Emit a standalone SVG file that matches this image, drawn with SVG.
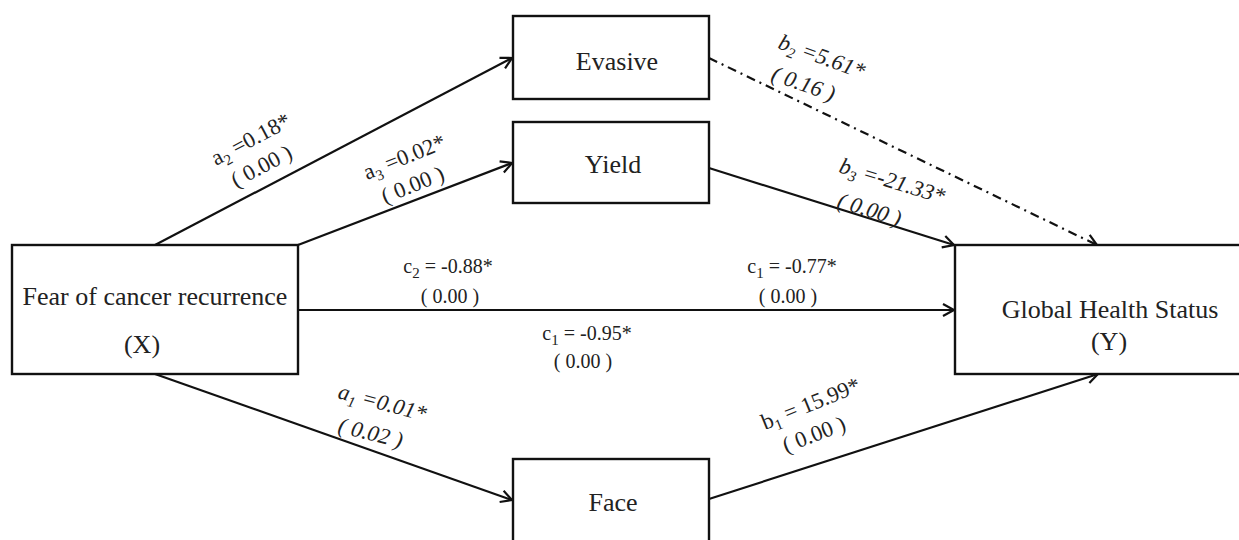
<svg xmlns="http://www.w3.org/2000/svg" width="1239" height="540" viewBox="0 0 1239 540">
<defs>
<style>
.box{fill:#fff;stroke:#111;stroke-width:2.4}
.node{font-family:"Liberation Serif","Times New Roman",serif;font-size:26px;fill:#222}
.lbl{font-family:"Liberation Serif","Times New Roman",serif;font-size:20px;fill:#222}
.rl{font-size:22.5px}
.it{font-style:italic}
.sub{font-size:15px}
.conn{stroke:#111;stroke-width:2.2;fill:none}
.dd{stroke-dasharray:9 5 2 5}
</style>
<marker id="arr" markerUnits="userSpaceOnUse" markerWidth="16" markerHeight="16" refX="13" refY="8" orient="auto">
<path d="M2,2 L13,8 L2,14" fill="none" stroke="#111" stroke-width="2.2"/>
</marker>
</defs>
<g id="connectors">
<line class="conn" x1="155" y1="245" x2="512" y2="58" marker-end="url(#arr)"/>
<line class="conn" x1="298" y1="245" x2="512" y2="163" marker-end="url(#arr)"/>
<line class="conn" x1="155" y1="374" x2="512" y2="500" marker-end="url(#arr)"/>
<line class="conn" x1="298" y1="310" x2="954" y2="310" marker-end="url(#arr)"/>
<line class="conn" x1="709" y1="168" x2="954" y2="245" marker-end="url(#arr)"/>
<line class="conn dd" x1="709" y1="58" x2="1097" y2="245" marker-end="url(#arr)"/>
<line class="conn" x1="709" y1="499" x2="1098" y2="374" marker-end="url(#arr)"/>
</g>
<g id="node-x">
<rect class="box" x="12" y="245" width="286" height="129"/>
<text class="node" x="155" y="305" text-anchor="middle">Fear of cancer recurrence</text>
<text class="node" x="142" y="353" text-anchor="middle">(X)</text>
</g>
<g id="node-evasive">
<rect class="box" x="513" y="16" width="196" height="83"/>
<text class="node" x="617" y="70" text-anchor="middle">Evasive</text>
</g>
<g id="node-yield">
<rect class="box" x="513" y="122" width="196" height="81"/>
<text class="node" x="613" y="173" text-anchor="middle">Yield</text>
</g>
<g id="node-face">
<rect class="box" x="513" y="459" width="196" height="90"/>
<text class="node" x="613" y="511" text-anchor="middle">Face</text>
</g>
<g id="node-y">
<rect class="box" x="955" y="245" width="300" height="129"/>
<text class="node" x="1110" y="318" text-anchor="middle">Global Health Status</text>
<text class="node" x="1109" y="350" text-anchor="middle">(Y)</text>
</g>
<g id="labels">
<text class="lbl rl" transform="translate(216,166) rotate(-28)">a<tspan class="sub" dy="5">2</tspan><tspan dy="-5"> =0.18*</tspan></text>
<text class="lbl rl" transform="translate(236,188) rotate(-28)">( 0.00 )</text>
<text class="lbl rl" transform="translate(367,180) rotate(-22)">a<tspan class="sub" dy="5">3</tspan><tspan dy="-5"> =0.02*</tspan></text>
<text class="lbl rl" transform="translate(385,204) rotate(-22)">( 0.00 )</text>
<text class="lbl rl it" transform="translate(777,48) rotate(20)">b<tspan class="sub" dy="5">2</tspan><tspan dy="-5"> =5.61*</tspan></text>
<text class="lbl rl it" transform="translate(770,80) rotate(19)">( 0.16 )</text>
<text class="lbl rl it" transform="translate(838,172) rotate(17)">b<tspan class="sub" dy="5">3</tspan><tspan dy="-5"> =-21.33*</tspan></text>
<text class="lbl rl it" transform="translate(836,207) rotate(17)">( 0.00 )</text>
<text class="lbl" x="448" y="273" text-anchor="middle">c<tspan class="sub" dy="5">2</tspan><tspan dy="-5"> = -0.88*</tspan></text>
<text class="lbl" x="450" y="303" text-anchor="middle">( 0.00 )</text>
<text class="lbl" x="792" y="273" text-anchor="middle">c<tspan class="sub" dy="5">1</tspan><tspan dy="-5"> = -0.77*</tspan></text>
<text class="lbl" x="788" y="303" text-anchor="middle">( 0.00 )</text>
<text class="lbl" x="587" y="340" text-anchor="middle">c<tspan class="sub" dy="5">1</tspan><tspan dy="-5"> = -0.95*</tspan></text>
<text class="lbl" x="583" y="368" text-anchor="middle">( 0.00 )</text>
<text class="lbl rl it" transform="translate(337,398) rotate(15)">a<tspan class="sub" dy="5">1</tspan><tspan dy="-5"> =0.01*</tspan></text>
<text class="lbl rl it" transform="translate(337,432) rotate(14)">( 0.02 )</text>
<text class="lbl rl" transform="translate(765,430) rotate(-22)">b<tspan class="sub" dy="5">1</tspan><tspan dy="-5"> = 15.99*</tspan></text>
<text class="lbl rl" transform="translate(786,453) rotate(-21)">( 0.00 )</text>
</g>
</svg>
